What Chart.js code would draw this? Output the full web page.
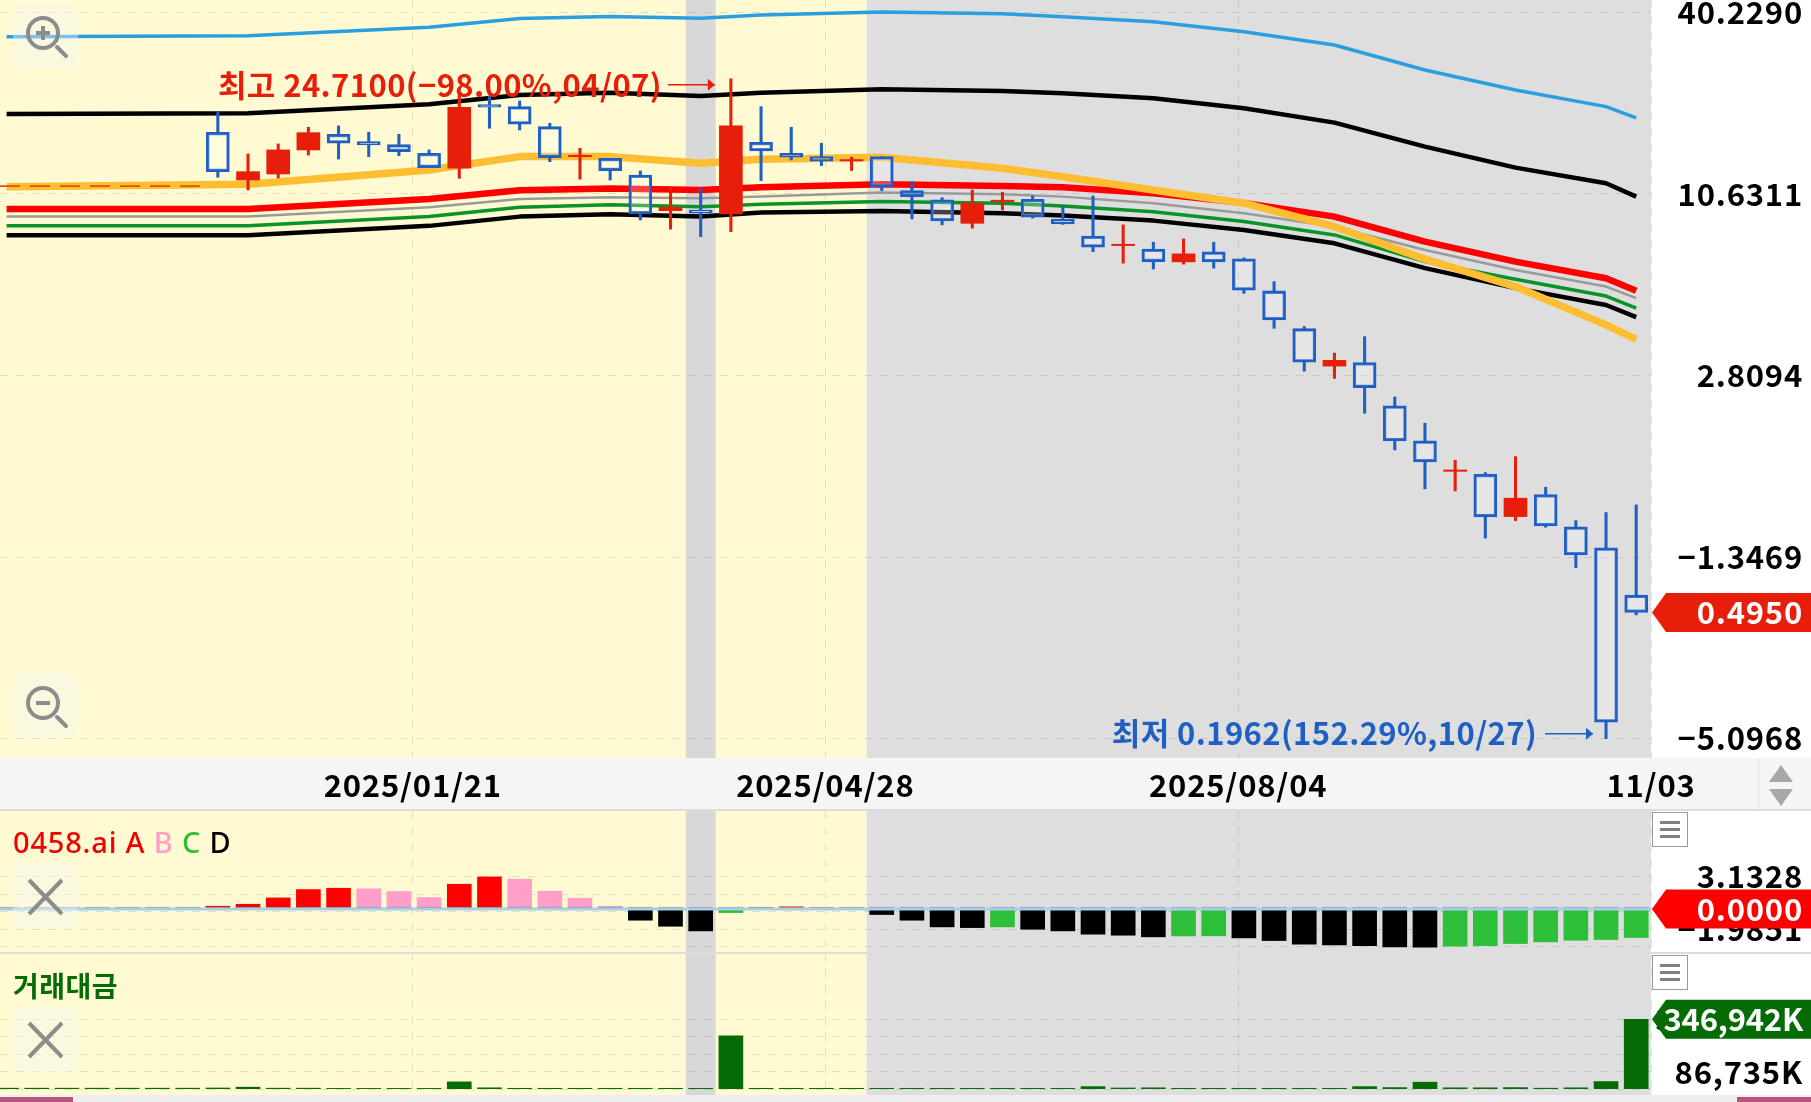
<!DOCTYPE html>
<html>
<head>
<meta charset="utf-8">
<style>
  html, body { margin: 0; padding: 0; width: 1811px; height: 1102px; overflow: hidden; background: #fff; font-family: "Noto Sans CJK KR", "Noto Sans", sans-serif; }
  canvas { position: absolute; left: 0; }
  .box { position: absolute; }
  #strip { left: 0; top: 758px; width: 1811px; height: 51px; background: #f5f5f5; border-bottom: 2px solid #ddd; }
  #stripSep { left: 1758px; top: 758px; width: 1px; height: 51px; background: #e4e4e4; }
  #bottomBar { left: 0; top: 1095px; width: 1811px; height: 7px; background: #eeeeee; }
  #pinkLeft { left: 0; top: 1097px; width: 73px; height: 5px; background: #b85480; }
  #pinkRight { left: 1737px; top: 1097px; width: 74px; height: 5px; background: #b85480; }
  #divider { left: 0; top: 952px; width: 1811px; height: 2px; background: #dddddd; }
  .legend { position: absolute; left: 13px; white-space: nowrap; }
  .menu { position: absolute; left: 1652px; width: 36px; height: 35px; background: #fff; border: 1px solid #999; box-sizing: border-box; }
  .menu i { position: absolute; left: 7px; width: 20px; height: 3px; background: #808080; }
  svg.icon { position: absolute; left: 13px; width: 65px; height: 65px; }
</style>
</head>
<body>
<div class="box" id="strip"></div>
<div class="box" id="stripSep"></div>
<div class="box" id="bottomBar"></div>
<div class="box" id="pinkLeft"></div>
<div class="box" id="pinkRight"></div>
<canvas id="main-chart" width="1811" height="811" style="top:0"></canvas>
<canvas id="osc-chart" width="1811" height="142" style="top:811px"></canvas>
<canvas id="vol-chart" width="1811" height="142" style="top:953px"></canvas>
<div class="box" id="divider"></div>

<svg class="icon" style="top:3px" viewBox="0 0 65 65">
  <rect width="65" height="65" rx="11" fill="rgba(245,245,245,0.4)"/>
  <circle cx="30" cy="30" r="15" fill="none" stroke="#8c8c8c" stroke-width="4"/>
  <path d="M23 30h14M30 23v14" stroke="#8c8c8c" stroke-width="4"/>
  <path d="M44 44l9 9" stroke="#8c8c8c" stroke-width="4" stroke-linecap="round"/>
</svg>
<svg class="icon" style="top:673px" viewBox="0 0 65 65">
  <rect width="65" height="65" rx="11" fill="rgba(245,245,245,0.4)"/>
  <circle cx="30" cy="30" r="15" fill="none" stroke="#8c8c8c" stroke-width="4"/>
  <path d="M23 30h14" stroke="#8c8c8c" stroke-width="4"/>
  <path d="M44 44l9 9" stroke="#8c8c8c" stroke-width="4" stroke-linecap="round"/>
</svg>
<svg class="icon" style="top:864px" viewBox="0 0 65 65">
  <rect width="65" height="65" rx="11" fill="rgba(245,245,245,0.4)"/>
  <path d="M16 16l33 34M49 16L16 50" stroke="#8c8c8c" stroke-width="4"/>
</svg>
<svg class="icon" style="top:1007px" viewBox="0 0 65 65">
  <rect width="65" height="65" rx="11" fill="rgba(245,245,245,0.4)"/>
  <path d="M16 16l33 34M49 16L16 50" stroke="#8c8c8c" stroke-width="4"/>
</svg>
<svg style="position:absolute;left:1763px;top:762px" width="36" height="44">
  <path d="M18 3l12 17H6zM6 27h24L18 44z" fill="#a8a8a8"/>
</svg>

<div class="legend" style="top:822px;font-family:'Noto Sans';font-size:29px;font-weight:500;letter-spacing:0.8px"><span style="color:#f00000">0458.ai A</span> <span style="color:#ff9ec8">B</span> <span style="color:#2ebf3a">C</span> <span style="color:#000">D</span></div>
<div class="legend" style="top:965px;color:#056b05;font-size:28px;font-weight:700;letter-spacing:0.5px">거래대금</div>

<div class="menu" style="top:812px"><i style="top:8px"></i><i style="top:15px"></i><i style="top:22px"></i></div>
<div class="menu" style="top:955px"><i style="top:8px"></i><i style="top:15px"></i><i style="top:22px"></i></div>

<script src="https://cdn.jsdelivr.net/npm/chart.js@4"></script>
<script>
// Weekly sessions, first one is 2024/10/21, last one 2025/11/03
const categories = [
  '2024/10/21', '2024/10/28', '2024/11/04', '2024/11/11', '2024/11/18', '2024/11/25', '2024/12/02',
  '2024/12/09', '2024/12/16', '2024/12/23', '2024/12/30', '2025/01/06', '2025/01/13', '2025/01/20',
  '2025/01/27', '2025/02/03', '2025/02/10', '2025/02/17', '2025/02/24', '2025/03/03', '2025/03/10',
  '2025/03/17', '2025/03/24', '2025/03/31', '2025/04/07', '2025/04/14', '2025/04/21', '2025/04/28',
  '2025/05/05', '2025/05/12', '2025/05/19', '2025/05/26', '2025/06/02', '2025/06/09', '2025/06/16',
  '2025/06/23', '2025/06/30', '2025/07/07', '2025/07/14', '2025/07/21', '2025/07/28', '2025/08/04',
  '2025/08/11', '2025/08/18', '2025/08/25', '2025/09/01', '2025/09/08', '2025/09/15', '2025/09/22',
  '2025/09/29', '2025/10/06', '2025/10/13', '2025/10/20', '2025/10/27', '2025/11/03'
];

// Candles start at the 8th session
const firstCandle = categories.indexOf('2024/12/09');
const opens = [16.70, 11.77, 12.30, 14.67, 16.46, 15.59, 15.25, 14.32, 12.83, 20.44, 20.15, 17.40, 13.97, 13.80, 12.21, 9.40, 9.45, 9.18, 15.52, 14.32, 13.97, 13.53, 13.97, 10.89, 10.17, 8.57, 10.05, 10.22, 8.83, 7.81, 7.28, 7.10, 6.46, 6.95, 6.61, 5.22, 3.96, 3.01, 3.09, 2.25, 1.74, 1.392, 1.362, 0.999, 1.174, 0.926, 0.794, 0.5617];
const closes = [12.51, 12.51, 14.67, 16.65, 15.41, 15.22, 14.49, 12.89, 20.06, 20.06, 17.71, 13.87, 14.10, 12.61, 9.18, 9.64, 9.23, 17.49, 14.56, 13.91, 13.50, 13.67, 11.21, 10.42, 8.72, 9.93, 10.15, 8.96, 8.53, 7.19, 7.35, 6.47, 6.85, 6.46, 5.25, 4.22, 3.10, 3.14, 2.57, 1.74, 1.49, 1.406, 0.997, 1.143, 0.933, 0.754, 0.2215, 0.4950];
const highs = [19.42, 14.25, 15.33, 17.32, 17.49, 16.70, 16.46, 14.67, 22.27, 21.79, 21.00, 17.84, 14.85, 13.80, 12.58, 11.21, 11.08, 24.71, 20.15, 17.32, 15.41, 13.91, 13.97, 11.63, 10.34, 10.94, 10.76, 10.47, 9.68, 10.47, 8.47, 7.46, 7.64, 7.46, 6.65, 5.59, 4.02, 3.31, 3.735, 2.40, 1.98, 1.51, 1.379, 1.55, 1.239, 0.970, 1.029, 1.088];
const lows = [12.01, 10.94, 11.95, 14.13, 13.73, 13.97, 14.07, 12.89, 11.92, 17.20, 16.98, 13.46, 11.84, 11.77, 8.78, 8.21, 7.77, 8.06, 11.72, 13.63, 13.08, 12.61, 10.89, 8.85, 8.47, 8.27, 9.45, 8.90, 8.50, 6.96, 6.40, 6.13, 6.35, 6.17, 5.13, 3.97, 2.90, 2.75, 2.13, 1.628, 1.224, 1.206, 0.853, 0.970, 0.924, 0.687, 0.1962, 0.4862];

// Moving average lines, read at these sessions
const lineKnots = [0, 8, 14, 17, 20, 23, 25, 29, 33, 35, 38, 41, 44, 47, 50, 53, 54];
const skyLine = [33.64, 33.89, 36.04, 38.44, 39.01, 38.50, 39.44, 40.31, 39.82, 38.95, 37.55, 34.89, 31.66, 26.35, 22.76, 20.15, 18.55];
const upperBlack = [19.10, 19.19, 20.50, 21.95, 22.32, 21.79, 22.32, 22.89, 22.60, 22.22, 21.42, 19.91, 17.92, 15.03, 12.89, 11.49, 10.42];
const orangeLine = [11.21, 11.41, 12.67, 13.97, 13.97, 13.31, 13.70, 13.91, 12.83, 12.06, 10.94, 9.93, 8.36, 6.59, 5.39, 4.07, 3.66];
const redLine = [9.52, 9.52, 10.24, 10.92, 11.05, 10.94, 11.16, 11.41, 11.27, 11.16, 10.68, 9.95, 9.00, 7.49, 6.47, 5.73, 5.23];
const grayLine = [9.00, 9.00, 9.64, 10.24, 10.37, 10.30, 10.42, 10.74, 10.60, 10.42, 9.93, 9.23, 8.36, 7.05, 6.09, 5.39, 4.95];
const greenLine = [8.41, 8.41, 9.00, 9.64, 9.81, 9.68, 9.86, 10.06, 9.93, 9.73, 9.33, 8.68, 7.87, 6.47, 5.69, 5.03, 4.60];
const lowerBlack = [7.85, 7.85, 8.41, 9.00, 9.16, 9.00, 9.27, 9.38, 9.23, 9.07, 8.74, 8.16, 7.40, 6.17, 5.33, 4.71, 4.31];

// Dashed price stub before the first candle
const stubSessions = [-0.22, 6.4];
const stubPrice = 11.25;

const priceTicks = [40.2290, 10.6311, 2.8094, 0.7424, 0.1962];
const priceTickLabels = ['40.2290', '10.6311', '2.8094', '−1.3469', '−5.0968'];
const dateTicks = [13.46, 27.13, 40.81, 54.49];
const dateTickLabels = ['2025/01/21', '2025/04/28', '2025/08/04', '11/03'];

const oscValues = [0.26, 0.45, 1.07, 1.88, 2.01, 1.95, 1.69, 1.10, 2.40, 3.11, 2.89, 1.72, 1.04, 0.26, -1.10, -1.69, -2.14, -0.36, 0.10, 0.20, 0.10, 0.05, -0.55, -1.10, -1.75, -1.82, -1.75, -1.98, -2.14, -2.46, -2.56, -2.72, -2.63, -2.62, -2.82, -3.08, -3.44, -3.50, -3.57, -3.70, -3.73, -3.63, -3.57, -3.37, -3.21, -3.05, -2.98, -2.79];
const oscTicks = [3.1328, 1.4268, -0.2792, -1.9851, -3.6911];
const oscTickLabels = ['3.1328', '', '', '−1.9851', ''];

// 거래대금 in thousands
const volumes = [5000, 5000, 5000, 5000, 5000, 5000, 5000, 6000, 10000, 5000, 5000, 4000, 4000, 4000, 4000, 36400, 7000, 4500, 4500, 4500, 4500, 4500, 4500, 4500, 264900, 4500, 4500, 4500, 4500, 4500, 4500, 4500, 4500, 4500, 4500, 4500, 13000, 6000, 7000, 4500, 4500, 4500, 4500, 4500, 4500, 13000, 8000, 34800, 7000, 7000, 8000, 5000, 7000, 38000, 346942];
const volTicks = [346942, 260207, 173471, 86735, 0];
const volTickLabels = ['346,942K', '', '', '86,735K', ''];

// Session gaps for the background
const bandEdges = [22.5, 23.5, 28.5];

const RED = '#e61e0a';
const BLUE = '#1f5fc4';
const GRID = 'rgba(120,120,100,0.2)';
const AXIS_FONT = { family: '"Noto Sans CJK KR", "Noto Sans", sans-serif', size: 31, weight: '700' };
const NOTE_FONT = '700 31px "Noto Sans CJK KR", "Noto Sans", sans-serif';
const TEXT_SPACING = '0.8px';

const xScale = (extra) => ({
  type: 'linear',
  offset: false,
  min: -0.219,
  max: 54.49,
  afterBuildTicks: (scale) => { scale.ticks = dateTicks.map(value => ({ value })); },
  grid: { color: GRID, drawTicks: false, offset: false },
  border: { display: false, dash: [8, 8] },
  ticks: { display: false, autoSkip: false, maxRotation: 0 },
  afterFit: (scale) => { scale.height = 0; scale.paddingLeft = 0; scale.paddingRight = 0; },
  ...extra
});

const yScale = (tickValues, tickLabels, extra) => ({
  position: 'right',
  afterBuildTicks: (scale) => { scale.ticks = tickValues.map(value => ({ value })); },
  // tick padding also leaks into the plot area, drop it
  afterFit: (scale) => { scale.width = 152; scale.paddingTop = 0; scale.paddingBottom = 0; },
  grid: { color: GRID, drawTicks: false },
  border: { display: false, dash: [8, 8] },
  ticks: {
    autoSkip: false,
    crossAlign: 'far',
    padding: 0,
    color: '#000',
    font: AXIS_FONT,
    callback: (value, index) => tickLabels[index]
  },
  ...extra
});

const baseOptions = (scales, plugins) => ({
  type: 'bar',
  options: {
    responsive: false,
    animation: false,
    devicePixelRatio: 1,
    // far aligned tick labels end at the scale's right edge
    layout: { padding: { right: 8 }, autoPadding: false },
    plugins: { legend: { display: false }, tooltip: { enabled: false } },
    events: [],
    scales
  },
  plugins
});

// Yellow sessions with the gray gaps behind everything
const bandsPlugin = {
  id: 'bands',
  beforeDraw(chart) {
    const { ctx, chartArea, scales } = chart;
    const edges = bandEdges.map(v => scales.x.getPixelForValue(v));
    const fillBand = (from, to, color) => {
      ctx.fillStyle = color;
      ctx.fillRect(from, chartArea.top, to - from, chartArea.bottom - chartArea.top);
    };
    ctx.letterSpacing = TEXT_SPACING;
    ctx.save();
    fillBand(chartArea.left, edges[0], '#fffad2');
    fillBand(edges[0], edges[1], '#d8d8d8');
    fillBand(edges[1], edges[2], '#fffad2');
    fillBand(edges[2], chartArea.right, '#dedede');
    ctx.restore();
  }
};

const drawTag = (chart, value, text, color, spacing) => {
  const { ctx, chartArea, scales } = chart;
  const y = scales.y.getPixelForValue(value);
  const left = chartArea.right + 1;
  const half = 19.5;
  ctx.save();
  ctx.fillStyle = color;
  ctx.beginPath();
  ctx.moveTo(left, y);
  ctx.lineTo(left + 14, y - half);
  ctx.lineTo(1811, y - half);
  ctx.lineTo(1811, y + half);
  ctx.lineTo(left + 14, y + half);
  ctx.closePath();
  ctx.fill();
  ctx.fillStyle = '#fff';
  ctx.font = NOTE_FONT;
  ctx.letterSpacing = spacing;
  ctx.textAlign = 'right';
  ctx.textBaseline = 'middle';
  ctx.fillText(text, 1803, y);
  ctx.restore();
};

const drawNote = (ctx, text, textRight, y, arrowFrom, arrowTo, color) => {
  ctx.save();
  ctx.fillStyle = color;
  ctx.strokeStyle = color;
  ctx.font = NOTE_FONT;
  ctx.letterSpacing = '0.4px';
  ctx.textAlign = 'right';
  ctx.textBaseline = 'middle';
  ctx.fillText(text, textRight, y);
  ctx.lineWidth = 1.6;
  ctx.beginPath();
  ctx.moveTo(arrowFrom, y);
  ctx.lineTo(arrowTo, y);
  ctx.stroke();
  ctx.beginPath();
  ctx.moveTo(arrowTo, y);
  ctx.lineTo(arrowTo - 7, y - 6);
  ctx.lineTo(arrowTo - 7, y + 6);
  ctx.closePath();
  ctx.fill();
  ctx.restore();
};

const mainNotesPlugin = {
  id: 'mainNotes',
  afterDraw(chart) {
    const { ctx, scales } = chart;
    const hiIndex = categories.indexOf('2025/04/07');
    const loIndex = categories.indexOf('2025/10/27');
    const hiX = scales.x.getPixelForValue(hiIndex);
    const loX = scales.x.getPixelForValue(loIndex);
    drawNote(ctx, '최고 24.7100(−98.00%,04/07)', hiX - 69, scales.y.getPixelForValue(24.71) + 6, hiX - 63, hiX - 16, RED);
    drawNote(ctx, '최저 0.1962(152.29%,10/27)', loX - 69, scales.y.getPixelForValue(0.1962) - 5, loX - 61, loX - 13, BLUE);
    drawTag(chart, closes[closes.length - 1], '0.4950', RED, TEXT_SPACING);
  }
};

const candleAt = (i) => firstCandle + i;
const isUp = (i) => closes[i] >= opens[i];
const candleColor = (ctx) => (ctx.raw.up ? RED : BLUE);

const upperWicks = opens.map((o, i) => ({ x: candleAt(i), y: [Math.max(o, closes[i]), highs[i]], up: isUp(i) }));
const lowerWicks = opens.map((o, i) => ({ x: candleAt(i), y: [lows[i], Math.min(o, closes[i])], up: isUp(i) }));
const bodies = opens.map((o, i) => ({ x: candleAt(i), y: [o, closes[i]], up: isUp(i) }));

const lineSet = (values, color, width) => ({
  type: 'line',
  data: values.map((y, i) => ({ x: lineKnots[i], y })),
  borderColor: color,
  borderWidth: width,
  pointRadius: 0,
  borderCapStyle: 'butt',
  borderJoinStyle: 'round'
});

new Chart(document.getElementById('main-chart'), {
  ...baseOptions({
    x: xScale({
      afterFit: (scale) => { scale.height = 53; scale.paddingLeft = 0; scale.paddingRight = 0; },
      ticks: {
        display: true,
        autoSkip: false,
        maxRotation: 0,
        padding: 9,
        color: '#000',
        font: AXIS_FONT,
        callback: (value, index) => dateTickLabels[index]
      }
    }),
    y: yScale(priceTicks, priceTickLabels, { type: 'logarithmic', min: 0.1703, max: 44.02 })
  }, [bandsPlugin, mainNotesPlugin]),
  data: {
    datasets: [
      {
        label: 'body',
        data: bodies,
        grouped: false,
        barThickness: 23,
        borderWidth: (ctx) => (ctx.raw.up ? 0 : 2.6),
        borderSkipped: false,
        borderColor: BLUE,
        backgroundColor: (ctx) => (ctx.raw.up ? RED : 'rgba(255,255,255,0.25)')
      },
      { label: 'upper wick', data: upperWicks, grouped: false, barThickness: 2.4, backgroundColor: candleColor },
      { label: 'lower wick', data: lowerWicks, grouped: false, barThickness: 2.4, backgroundColor: candleColor },
      {
        type: 'line',
        label: 'stub',
        data: stubSessions.map(x => ({ x, y: stubPrice })),
        borderColor: '#e2500f',
        borderWidth: 1.8,
        borderDash: [20, 10],
        pointRadius: 0
      },
      lineSet(orangeLine, '#ffbe32', 7.5),
      lineSet(redLine, '#ff0000', 6.5),
      lineSet(grayLine, '#9a9a9a', 2.5),
      lineSet(greenLine, '#0a9428', 3.5),
      lineSet(lowerBlack, '#000000', 4.5),
      lineSet(upperBlack, '#000000', 4.5),
      lineSet(skyLine, '#2a9fe0', 3.5)
    ]
  }
});

// Bar color follows the sign and the direction against the previous week
const oscColor = (i) => {
  const prev = i > 0 ? oscValues[i - 1] : 0;
  if (oscValues[i] >= 0) return oscValues[i] >= prev ? '#ff0000' : '#ff9ec8';
  return oscValues[i] < prev ? '#000000' : '#2ebf3a';
};

const oscTagPlugin = {
  id: 'oscTag',
  afterDraw(chart) { drawTag(chart, 0, '0.0000', '#ff0000', TEXT_SPACING); }
};

new Chart(document.getElementById('osc-chart'), {
  ...baseOptions({
    x: xScale(),
    y: yScale(oscTicks, oscTickLabels, { type: 'linear', min: -4.29, max: 9.523 })
  }, [bandsPlugin, oscTagPlugin]),
  data: {
    datasets: [
      {
        type: 'line',
        label: 'zero',
        data: [{ x: -0.219, y: 0 }, { x: 54.49, y: 0 }],
        borderColor: '#a6cfe8',
        borderWidth: 3,
        pointRadius: 0
      },
      {
        label: 'base',
        data: categories.map((c, i) => ({ x: i, y: 0.16 })),
        grouped: false,
        barThickness: 24,
        backgroundColor: 'rgba(125,110,150,0.75)'
      },
      {
        label: '0458.ai',
        data: oscValues.map((y, i) => ({ x: candleAt(i), y })),
        grouped: false,
        barThickness: 24,
        backgroundColor: (ctx) => oscColor(ctx.dataIndex)
      }
    ]
  }
});

const volTagPlugin = {
  id: 'volTag',
  afterDraw(chart) { drawTag(chart, volumes[volumes.length - 1], '346,942K', '#056b05', '-0.2px'); }
};

new Chart(document.getElementById('vol-chart'), {
  ...baseOptions({
    x: xScale(),
    y: yScale(volTicks, volTickLabels, { type: 'linear', min: -28802, max: 676342 })
  }, [bandsPlugin, volTagPlugin]),
  data: {
    datasets: [
      {
        label: '거래대금',
        data: volumes.map((y, i) => ({ x: i, y })),
        grouped: false,
        barThickness: 24,
        backgroundColor: '#056b05'
      }
    ]
  }
});
</script>
</body>
</html>
